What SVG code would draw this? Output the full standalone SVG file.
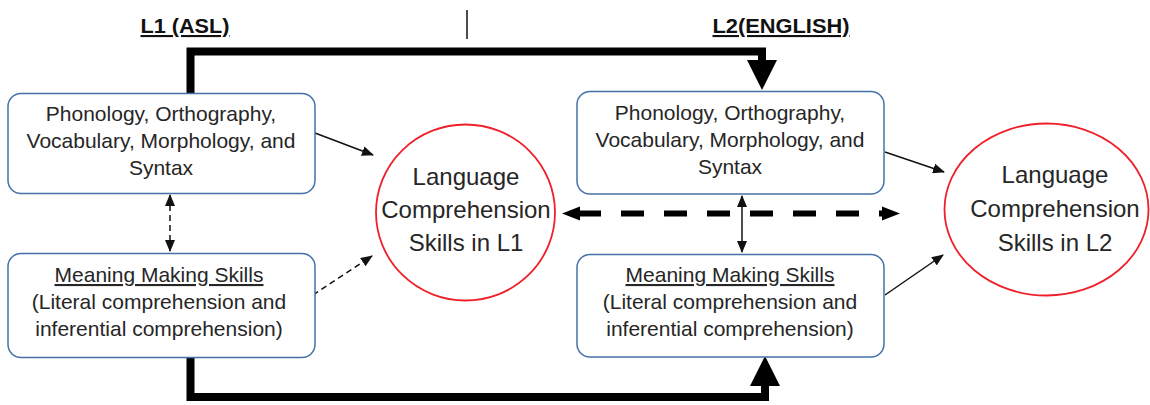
<svg xmlns="http://www.w3.org/2000/svg" width="1150" height="405" viewBox="0 0 1150 405">
<style>
.box{fill:#fff;stroke:#4472a8;stroke-width:1.5}
.circ{fill:#fff;stroke:#f0202a;stroke-width:1.8}
.t{font-family:"Liberation Sans",Arial,sans-serif;font-size:21px;fill:#262626;text-anchor:middle}
.c{font-size:24px}
.u{text-decoration:underline}
.title{font-family:"Liberation Sans",Arial,sans-serif;font-weight:bold;font-size:21px;fill:#111;text-decoration:underline}
.thin{stroke:#111;stroke-width:1.5;fill:none}
.dash{stroke-dasharray:6 4}
.thick{stroke:#000;stroke-width:8;fill:none;stroke-linejoin:miter}
.bigdash{stroke:#000;stroke-width:6;fill:none;stroke-dasharray:23 20}
</style>
<defs>
<marker id="ah" markerUnits="userSpaceOnUse" markerWidth="12" markerHeight="10" refX="11" refY="5" orient="auto-start-reverse"><path d="M0,0 L12,5 L0,10 z" fill="#111"/></marker>
<marker id="big" markerUnits="userSpaceOnUse" markerWidth="20" markerHeight="16" refX="2" refY="8" orient="auto-start-reverse"><path d="M0,1 L18,8 L0,15 z" fill="#000"/></marker>
<marker id="fat" markerUnits="userSpaceOnUse" markerWidth="32" markerHeight="32" refX="2" refY="16" orient="auto"><path d="M0,1 L30,16 L0,31 z" fill="#000"/></marker>
</defs>

<text class="title" x="185" y="33" text-anchor="middle" textLength="89" lengthAdjust="spacingAndGlyphs">L1 (ASL)</text>
<text class="title" x="781" y="33" text-anchor="middle" textLength="137" lengthAdjust="spacingAndGlyphs">L2(ENGLISH)</text>
<line x1="467" y1="10" x2="467" y2="39" stroke="#111" stroke-width="1.5"/>

<g id="connectors">
<path class="thick" d="M190.5,93 V51.5 H762 V62" marker-end="url(#fat)"/>
<path class="thick" d="M190.5,357 V397 H765 V384" marker-end="url(#fat)"/>
<line class="thin" x1="315" y1="133" x2="373" y2="155" marker-end="url(#ah)"/>
<line class="thin dash" x1="313" y1="295" x2="372" y2="256" marker-end="url(#ah)"/>
<line class="thin dash" x1="170" y1="195" x2="170" y2="251" marker-start="url(#ah)" marker-end="url(#ah)"/>
<line class="thin" x1="742" y1="196" x2="742" y2="252" marker-start="url(#ah)" marker-end="url(#ah)"/>
<line class="thin" x1="885" y1="152" x2="944" y2="172" marker-end="url(#ah)"/>
<line class="thin" x1="885" y1="295" x2="943" y2="255" marker-end="url(#ah)"/>
<path class="bigdash" d="M578,213.5 H884" marker-start="url(#big)" marker-end="url(#big)"/>
</g>

<g id="l1-form">
<rect class="box" x="8" y="93.5" width="307" height="100" rx="13"/>
<text class="t" x="161" y="121">Phonology, Orthography,</text>
<text class="t" x="161" y="148">Vocabulary, Morphology, and</text>
<text class="t" x="161" y="175">Syntax</text>
</g>

<g id="l1-meaning">
<rect class="box" x="8" y="253.5" width="307" height="104" rx="13"/>
<text class="t u" x="159" y="282">Meaning Making Skills</text>
<text class="t" x="159" y="309">(Literal comprehension and</text>
<text class="t" x="159" y="336">inferential comprehension)</text>
</g>

<g id="l1-comp">
<ellipse class="circ" cx="465.5" cy="212.5" rx="89.5" ry="88"/>
<text class="t c" x="466" y="185">Language</text>
<text class="t c" x="466" y="218">Comprehension</text>
<text class="t c" x="466" y="251">Skills in L1</text>
</g>

<g id="l2-form">
<rect class="box" x="577" y="91.5" width="307" height="102.5" rx="13"/>
<text class="t" x="730" y="120">Phonology, Orthography,</text>
<text class="t" x="730" y="147">Vocabulary, Morphology, and</text>
<text class="t" x="730" y="174">Syntax</text>
</g>

<g id="l2-meaning">
<rect class="box" x="577" y="254.5" width="307" height="102.5" rx="13"/>
<text class="t u" x="730" y="282">Meaning Making Skills</text>
<text class="t" x="730" y="309">(Literal comprehension and</text>
<text class="t" x="730" y="336">inferential comprehension)</text>
</g>

<g id="l2-comp">
<ellipse class="circ" cx="1046.5" cy="209.5" rx="102" ry="86"/>
<text class="t c" x="1055" y="183">Language</text>
<text class="t c" x="1055" y="217">Comprehension</text>
<text class="t c" x="1055" y="251">Skills in L2</text>
</g>
</svg>
